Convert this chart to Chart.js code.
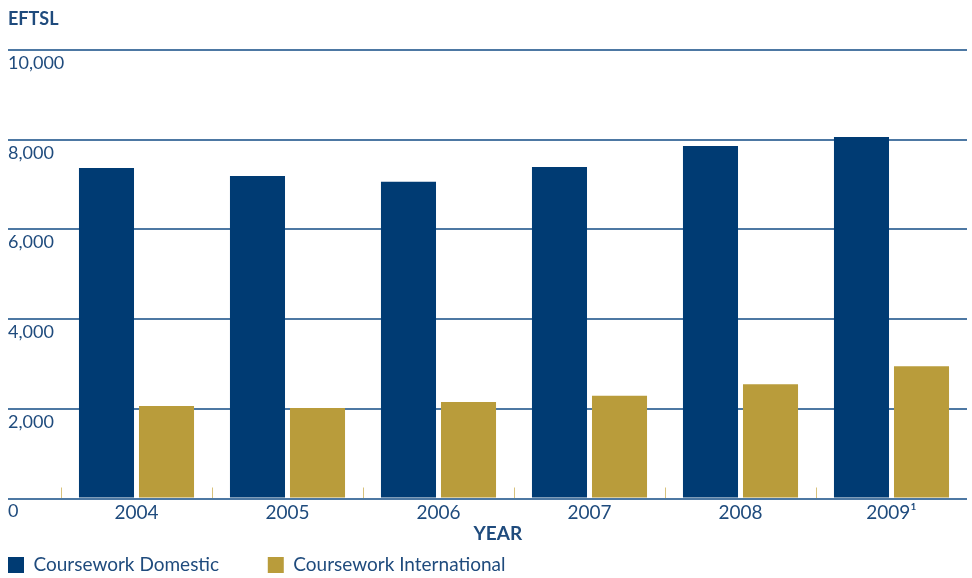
<!DOCTYPE html>
<html><head><meta charset="utf-8">
<script src="https://cdn.jsdelivr.net/npm/chart.js@4/dist/chart.umd.min.js"></script>
<style>html,body{margin:0;padding:0;background:#fff}</style>
</head><body>
<canvas id="c" width="972" height="578"></canvas>
<script>
const years = ['2004', '2005', '2006', '2007', '2008', '2009\u00B9'];
const domestic = [7370, 7190, 7060, 7390, 7860, 8060];
const international = [2060, 2020, 2150, 2290, 2550, 2950];
const seriesNames = ['Coursework Domestic', 'Coursework International'];
const yTicks = [0, 2000, 4000, 6000, 8000, 10000];
const yTitle = 'EFTSL';
const xTitle = 'YEAR';

const NAVY = '#003b73';
const GOLD = '#b99c3b';
const TEXT = '#1f4b7d';
const GRID = '#4d78a3';
const TICKGOLD = '#d8c27c';
const FONT = 'Lato, "Open Sans", sans-serif';

Chart.defaults.font.family = FONT;
Chart.defaults.color = TEXT;

const mctx = document.createElement('canvas').getContext('2d');
function padTo(text, font, px) {
  mctx.font = font;
  let t = text;
  while (mctx.measureText(t).width < px) t += ' ';
  return t;
}
mctx.font = 'bold 19px ' + FONT;
const xTitleText = padTo(xTitle, 'bold 19px ' + FONT, mctx.measureText(xTitle).width + 28);

new Chart(document.getElementById('c'), {
  type: 'bar',
  data: {
    labels: years,
    datasets: [
      { label: seriesNames[0], data: domestic, backgroundColor: NAVY, borderWidth: 0, categoryPercentage: 0.795, barPercentage: 0.917 },
      { label: seriesNames[1], data: international, backgroundColor: GOLD, borderWidth: 0, categoryPercentage: 0.795, barPercentage: 0.917 }
    ]
  },
  options: {
    responsive: false,
    animation: false,
    devicePixelRatio: 1,
    layout: { padding: { left: 8, right: 5, top: 0, bottom: -6.5 } },
    plugins: {
      title: {
        display: true, text: yTitle, align: 'start', color: TEXT,
        font: { size: 18, weight: 'bold' }, padding: { top: 8, bottom: 20.4 }
      },
      legend: {
        position: 'bottom', align: 'start',
        labels: {
          boxWidth: 16, boxHeight: 16, padding: 0, color: TEXT, font: { size: 19 },
          generateLabels: (chart) => {
            const items = Chart.defaults.plugins.legend.labels.generateLabels(chart);
            items[0].text = padTo(items[0].text, '19px ' + FONT, 267 - 8 - 16 - 9.5);
            return items;
          }
        }
      },
      tooltip: { enabled: false }
    },
    scales: {
      x: {
        offset: true,
        grid: {
          display: true, drawOnChartArea: false, drawTicks: true, tickLength: -11, offset: true,
          color: (ctx) => ctx.type === 'tick' ? TICKGOLD : 'rgba(0,0,0,0)', lineWidth: 1
        },
        border: { display: false },
        ticks: { padding: 14, color: TEXT, font: { size: 19 }, maxRotation: 0 },
        title: { display: true, text: xTitleText, color: TEXT, font: { size: 19, weight: 'bold' }, padding: { top: 0, bottom: 10 } },
        afterFit: (s) => { s.height = 57; }
      },
      y: {
        min: 0, max: 10000,
        afterBuildTicks: (s) => { s.ticks = yTicks.map(v => ({ value: v })); },
        grid: { color: GRID, lineWidth: 2, drawTicks: true, tickLength: 53 },
        border: { display: false },
        ticks: {
          mirror: true, crossAlign: 'near', labelOffset: 13, padding: -53, color: TEXT, font: { size: 18 },
          callback: (v) => Number(v).toLocaleString('en-US')
        },
        afterFit: (s) => { s.width = 53; s.paddingTop = 0; s.paddingBottom = 0; }
      }
    }
  }
});
</script>
</body></html>
